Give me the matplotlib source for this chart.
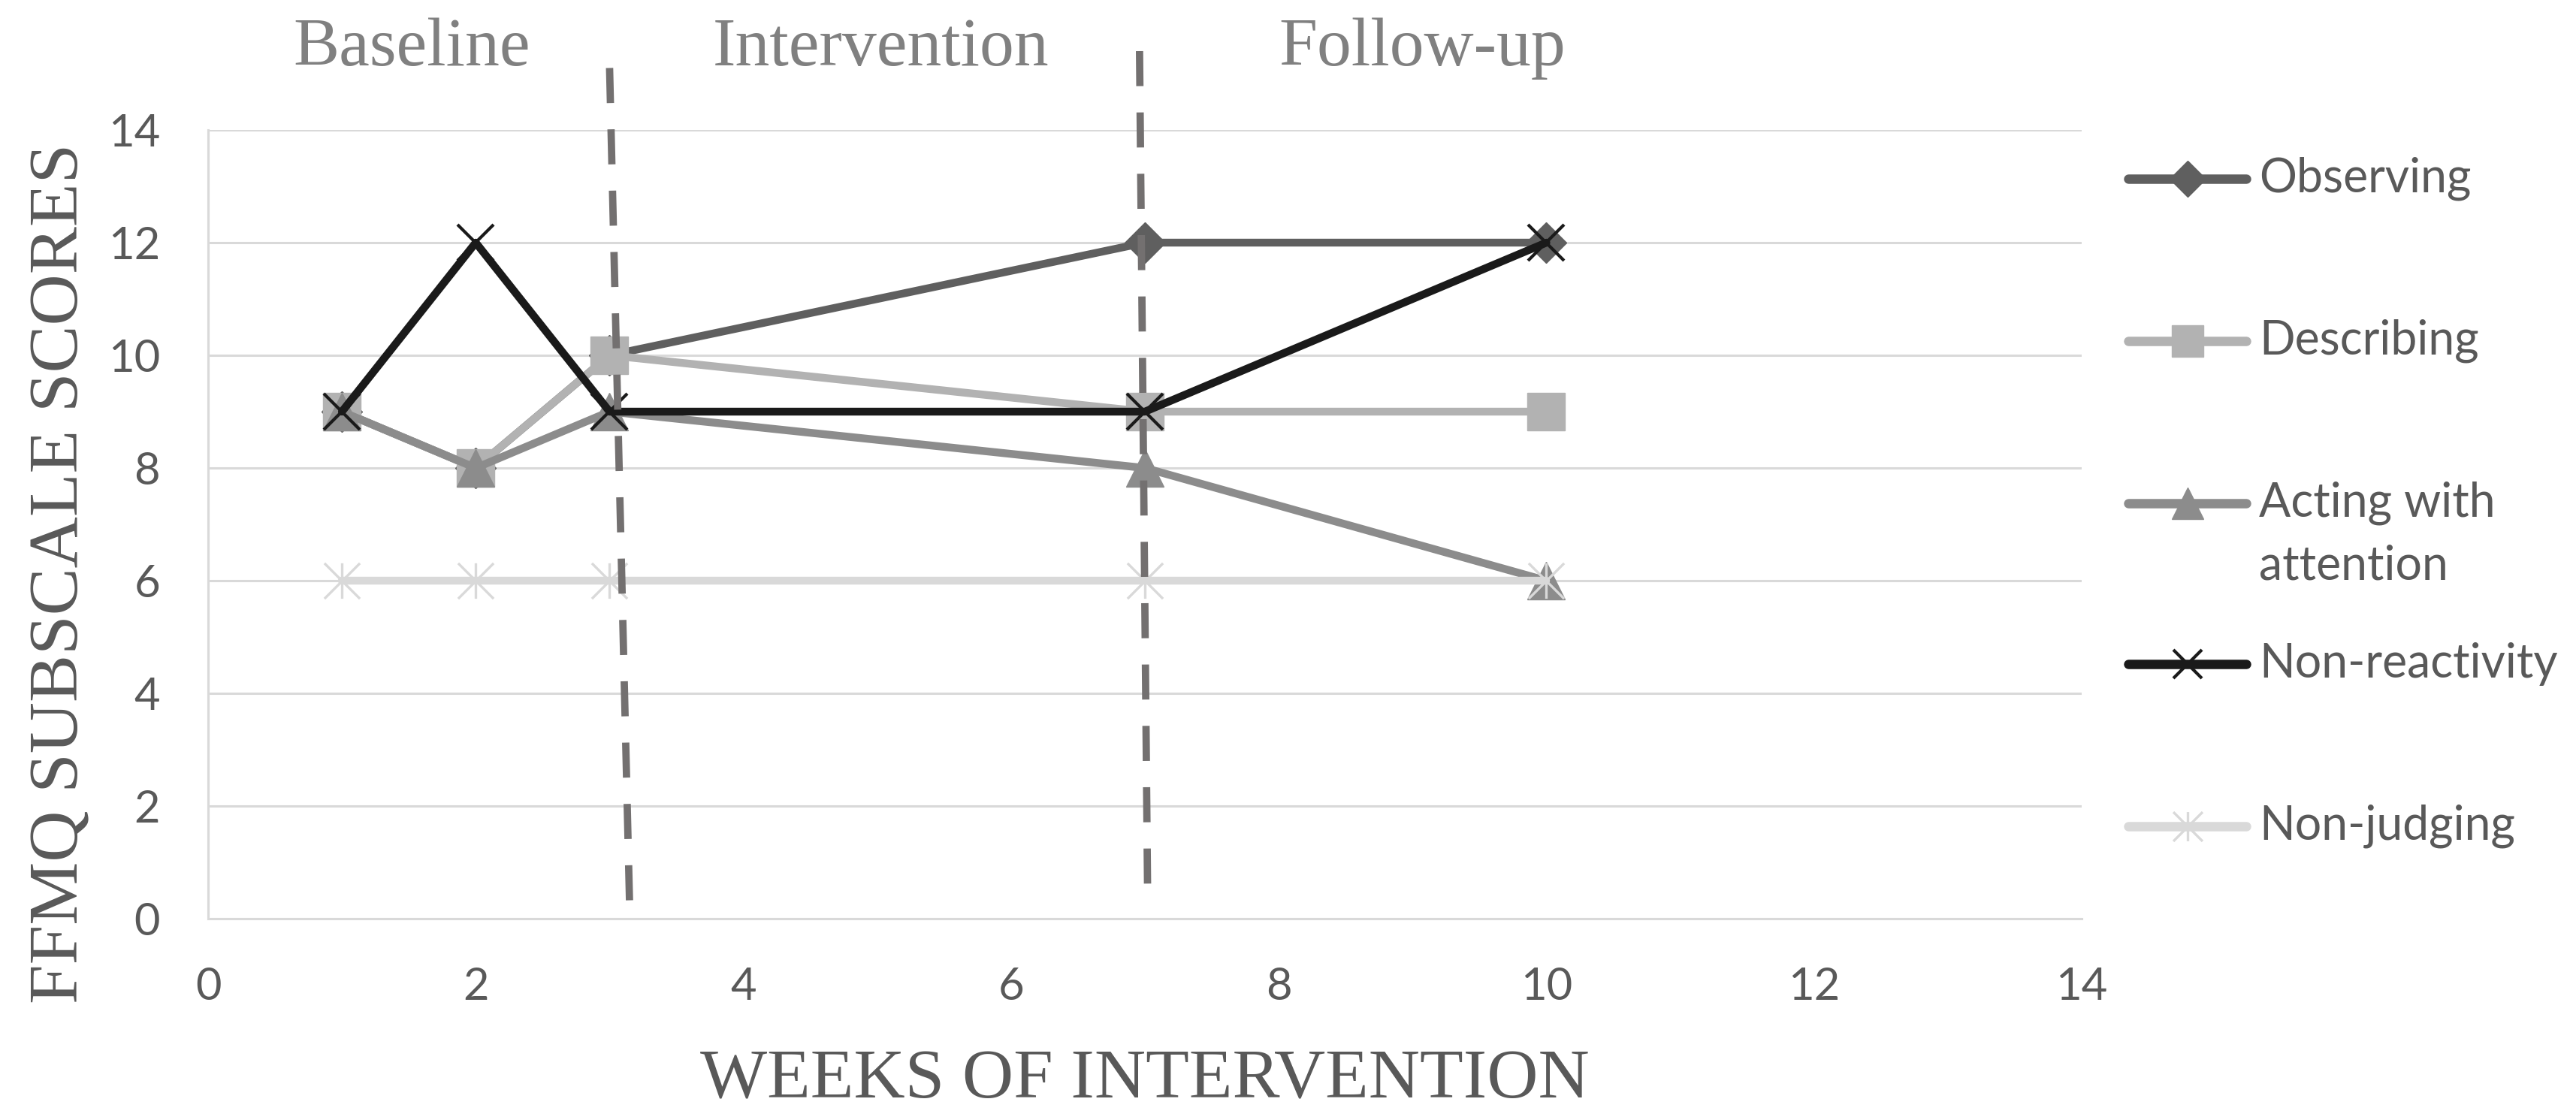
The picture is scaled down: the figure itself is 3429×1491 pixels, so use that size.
import numpy as np
import matplotlib
matplotlib.use("Agg")
import matplotlib.pyplot as plt
from matplotlib.path import Path

# data
weeks = [1, 2, 3, 7, 10]
observing = [9, 8, 10, 12, 12]
describing = [9, 8, 10, 9, 9]
acting = [9, 8, 9, 8, 6]
non_reactivity = [9, 12, 9, 9, 12]
non_judging = [6, 6, 6, 6, 6]

series_names = ["Observing", "Describing", "Acting with\nattention", "Non-reactivity", "Non-judging"]
series_vals = [observing, describing, acting, non_reactivity, non_judging]
colors = ["#5f5f5f", "#b2b2b2", "#8c8c8c", "#1a1a1a", "#d9d9d9"]

x_ticks = [0, 2, 4, 6, 8, 10, 12, 14]
y_ticks = [0, 2, 4, 6, 8, 10, 12, 14]

phase_names = ["Baseline", "Intervention", "Follow-up"]
phase_x = [1.52, 5.03, 9.07]
# hand drawn divider lines (slightly slanted in the original)
div_top = [(3.0, 15.1), (6.96, 15.4)]
div_bottom = [(3.15, 0.2), (7.02, 0.55)]

# excel style "star" marker: an x with a vertical bar
star = Path([(-1, -1), (1, 1), (-1, 1), (1, -1), (0, -1), (0, 1)],
            [Path.MOVETO, Path.LINETO, Path.MOVETO, Path.LINETO, Path.MOVETO, Path.LINETO])
markers = ["D", "s", "^", "x", star]
msizes = [27, 36, 36, 34, 34]
mews = [1, 1, 1, 3, 2.4]

W, H, DPI = 3429, 1491, 100
fig = plt.figure(figsize=(W / DPI, H / DPI), dpi=DPI)
ax = fig.add_axes([277 / W, 1 - 1223 / H, 2494 / W, 1050 / H])

sans = ["Lato", "DejaVu Sans"]
serif = ["Liberation Serif", "DejaVu Serif"]
tick_col = "#595959"
grid_col = "#d9d9d9"

for name, vals, c, m, ms, mw in zip(series_names, series_vals, colors, markers, msizes, mews):
    ax.plot(weeks, vals, color=c, lw=7.5, marker=m, ms=ms, mec=c, mfc=c, mew=mw,
            zorder=3, solid_capstyle="round", solid_joinstyle="round")

ax.set_xlim(0, 14)
ax.set_ylim(0, 14)
ax.set_xticks(x_ticks)
ax.set_yticks(y_ticks)
ax.yaxis.grid(True, color=grid_col, lw=2.2)
ax.set_axisbelow(True)
for s in ["top", "right"]:
    ax.spines[s].set_visible(False)
for s in ["left", "bottom"]:
    ax.spines[s].set_color(grid_col)
    ax.spines[s].set_linewidth(2.2)
ax.tick_params(length=0, colors=tick_col, labelsize=43)
ax.tick_params(axis="x", pad=46)
ax.tick_params(axis="y", pad=46)
for lab in ax.get_xticklabels() + ax.get_yticklabels():
    lab.set_family(sans)

# phase dividers
for (x0, y0), (x1, y1) in zip(div_top, div_bottom):
    ax.plot([x0, x1], [y0, y1], color="#737070", lw=7, dashes=(4.8, 3.6),
            clip_on=False, zorder=4)

for name, px in zip(phase_names, phase_x):
    ax.text(px, 15.45, name, ha="center", va="center", fontsize=66,
            family=serif, color="#808080", clip_on=False)

fig.text(1524 / W, 1 - 1439 / H, "WEEKS OF INTERVENTION", ha="center", va="center",
         fontsize=68, family=serif, color=tick_col)
fig.text(81 / W, 1 - 763 / H, "FFMQ SUBSCALE SCORES", ha="center", va="center",
         rotation=90, fontsize=68, family=serif, color=tick_col)

# legend drawn in pixel space
lax = fig.add_axes([0, 0, 1, 1])
lax.set_xlim(0, W)
lax.set_ylim(H, 0)
lax.axis("off")
leg_y = [238, 454, 670, 884, 1100]
leg_ms = [24, 30, 30, 28, 28]
for name, c, m, ms, mw, ly in zip(series_names, colors, markers, leg_ms, mews, leg_y):
    lax.plot([2833, 2990], [ly, ly], color=c, lw=9, solid_capstyle="round")
    lax.plot([2912], [ly], marker=m, ms=ms, color=c, mec=c, mew=mw)
    lines = name.split("\n")
    for i, t in enumerate(lines):
        lax.text(3007, ly + 83 * i, t, ha="left", va="center",
                 fontsize=45, family=sans, color=tick_col)

fig.savefig("out.png", dpi=DPI, facecolor="white")
